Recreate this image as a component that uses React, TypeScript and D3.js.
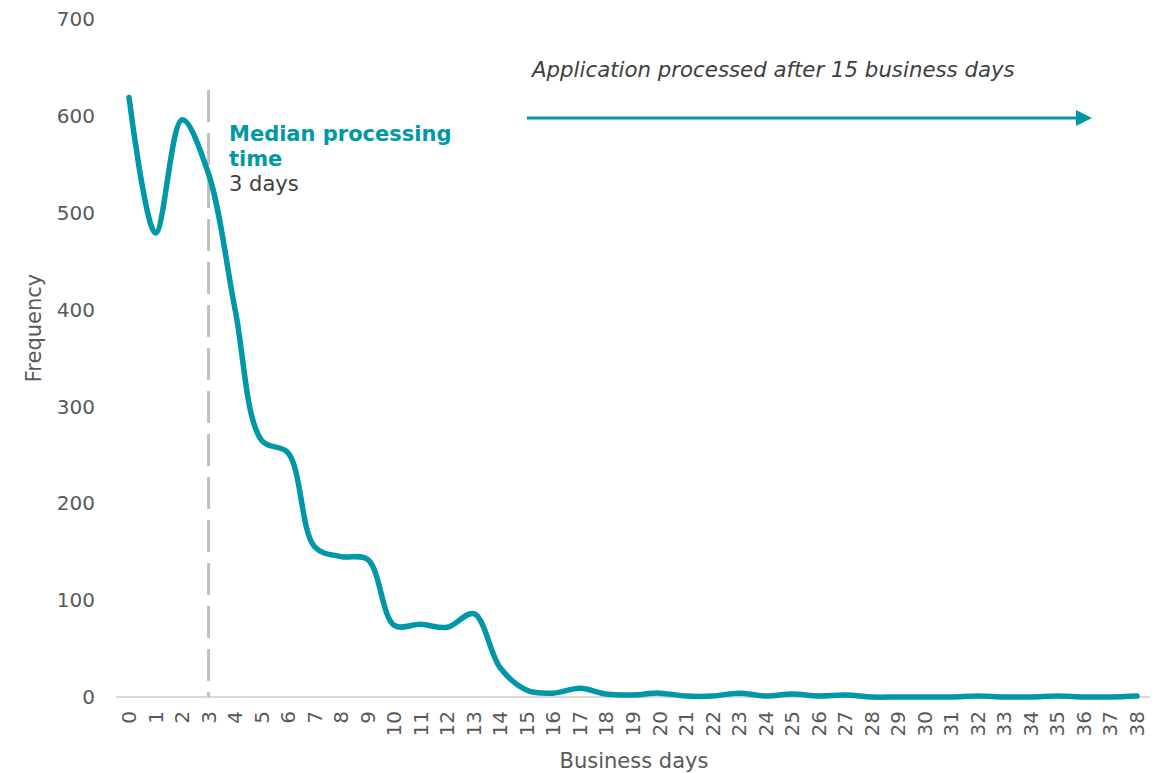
import React from "react";
import * as d3 from "d3";

const days: number[] = Array.from({ length: 39 }, (_, i) => i);
const frequency: number[] = [
  619, 479, 596, 540, 400, 265, 252, 155, 145, 142,
  74, 75, 72, 86, 30, 7, 4, 9, 3, 2,
  4, 1, 1, 4, 1, 3, 1, 2, 0, 0,
  0, 0, 1, 0, 0, 1, 0, 0, 1,
];
const yTicks: number[] = [0, 100, 200, 300, 400, 500, 600, 700];
const medianDay = 3;
const thresholdLabel = "Application processed after 15 business days";

const W = 1158;
const H = 773;
const FONT = "'DejaVu Sans', Verdana, sans-serif";
const TEAL = "#0098A6";

export default function App() {
  const x = d3.scaleLinear().domain([0, 38]).range([129, 1137]);
  const y = d3.scaleLinear().domain([0, 700]).range([697, 19]);
  const line = d3
    .line<number>()
    .x((_, i) => x(days[i]))
    .y((d) => y(d))
    .curve(d3.curveCatmullRom.alpha(0.5));

  return (
    <svg
      width={W}
      height={H}
      style={{ position: "absolute", left: 0, top: 0, background: "#fff" }}
      fontFamily={FONT}
    >
      {yTicks.map((t) => (
        <text
          key={t}
          x={95}
          y={y(t)}
          dy="0.36em"
          textAnchor="end"
          fontSize={20}
          fill="#595959"
        >
          {t}
        </text>
      ))}
      <line x1={116} x2={1150} y1={y(0)} y2={y(0)} stroke="#d9d9d9" strokeWidth={2} />
      {days.map((d) => (
        <text
          key={d}
          transform={`translate(${x(d)},${711}) rotate(-90)`}
          textAnchor="end"
          dy="0.35em"
          fontSize={20}
          fill="#595959"
        >
          {d}
        </text>
      ))}
      <text x={634} y={768} textAnchor="middle" fontSize={21} fill="#595959">
        Business days
      </text>
      <text
        transform={`translate(41,${328}) rotate(-90)`}
        textAnchor="middle"
        fontSize={21}
        fill="#595959"
      >
        Frequency
      </text>
      <line
        x1={x(medianDay)}
        x2={x(medianDay)}
        y1={90}
        y2={y(0)}
        stroke="#bfbfbf"
        strokeWidth={3}
        strokeDasharray="32 11"
      />
      <path
        d={line(frequency) || ""}
        fill="none"
        stroke={TEAL}
        strokeWidth={5.5}
        strokeLinecap="round"
        strokeLinejoin="round"
      />
      <text x={229} y={141} fontSize={21} fontWeight="bold" fill={TEAL}>
        Median processing
      </text>
      <text x={229} y={166} fontSize={21} fontWeight="bold" fill={TEAL}>
        time
      </text>
      <text x={229} y={191} fontSize={21} fill="#404040">
        {medianDay} days
      </text>
      <text x={532} y={77} fontSize={21.3} fontStyle="italic" fill="#404040">
        {thresholdLabel}
      </text>
      <line x1={x(15)} x2={1078} y1={118} y2={118} stroke={TEAL} strokeWidth={3} />
      <path d="M1076,110 L1092,118 L1076,126 Z" fill={TEAL} />
    </svg>
  );
}
